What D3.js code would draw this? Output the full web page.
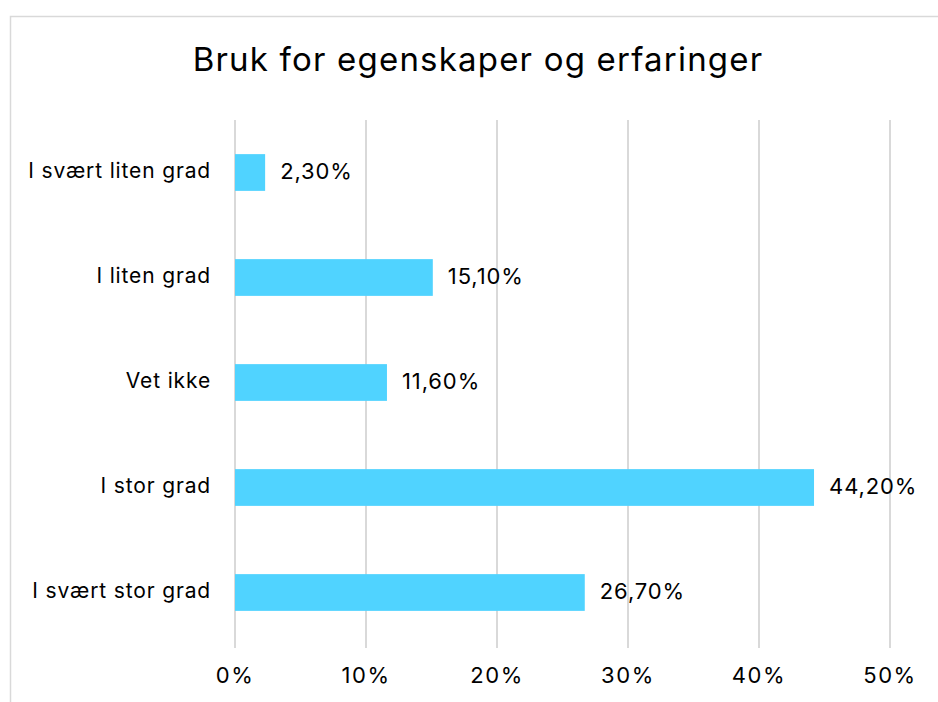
<!DOCTYPE html>
<html><head><meta charset="utf-8">
<script src="https://cdn.jsdelivr.net/npm/d3@7"></script>
<style>html,body{margin:0;padding:0;background:#fff;}svg{display:block;font-family:Inter, "Open Sans", sans-serif;}</style>
</head><body>
<svg id="c" width="938" height="702"></svg>
<script>
const categories = ["I svært liten grad","I liten grad","Vet ikke","I stor grad","I svært stor grad"];
const values = [2.3, 15.1, 11.6, 44.2, 26.7];
const valueLabels = ["2,30%","15,10%","11,60%","44,20%","26,70%"];
const ticks = [0,10,20,30,40,50];
const tickLabels = ["0%","10%","20%","30%","40%","50%"];
const title = "Bruk for egenskaper og erfaringer";

const svg = d3.select("#c");
svg.append("rect").attr("x",10.5).attr("y",16.5).attr("width",1000).attr("height",1000)
  .attr("fill","#fff").attr("stroke","#d9d9d9").attr("stroke-width",1.5);

svg.append("text").attr("x",478).attr("y",71).attr("text-anchor","middle")
  .attr("font-size",33).attr("letter-spacing","1.2px").attr("fill","#000").text(title);

const x = d3.scaleLinear().domain([0,50]).range([235,890]);
const y = d3.scaleBand().domain(categories).range([120,645]).paddingInner(0.65).paddingOuter(0.325);

const grid = svg.append("g");
grid.selectAll("line").data(ticks).join("line")
  .attr("x1",d=>x(d)).attr("x2",d=>x(d)).attr("y1",120).attr("y2",648)
  .attr("stroke","#d9d9d9").attr("stroke-width",2);

svg.append("g").selectAll("text").data(ticks).join("text")
  .attr("x",d=>x(d)).attr("y",683).attr("text-anchor","middle")
  .attr("font-size",22).attr("letter-spacing","1.6px").attr("fill","#000").text((d,i)=>tickLabels[i]);

svg.append("g").selectAll("rect").data(values).join("rect")
  .attr("x",x(0)).attr("y",(d,i)=>y(categories[i]))
  .attr("width",d=>x(d)-x(0)).attr("height",y.bandwidth()).attr("fill","#50D3FF");

svg.append("g").selectAll("text").data(values).join("text")
  .attr("x",d=>x(d)+15).attr("y",(d,i)=>y(categories[i])+y.bandwidth()/2)
  .attr("dy","0.3em").attr("font-size",22).attr("letter-spacing","0.9px").attr("fill","#000").text((d,i)=>valueLabels[i]);

svg.append("g").selectAll("text").data(categories).join("text")
  .attr("x",211).attr("y",d=>y(d)+y.bandwidth()/2).attr("dy","0.27em")
  .attr("text-anchor","end").attr("font-size",21).attr("letter-spacing","0.85px").attr("fill","#000").text(d=>d);
</script>
</body></html>
